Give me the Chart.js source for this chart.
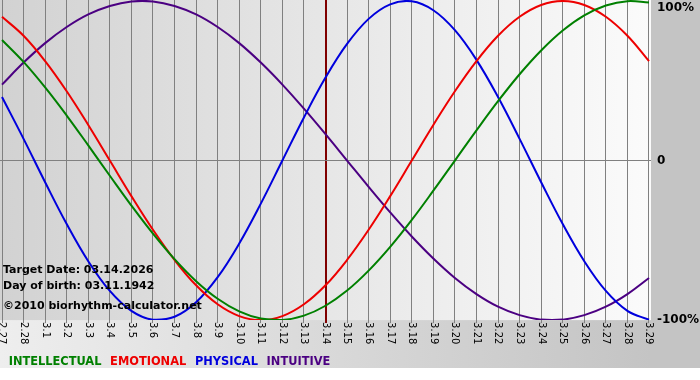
<!DOCTYPE html>
<html>
<head>
<meta charset="utf-8">
<title>Biorhythm chart</title>
<script src="https://cdn.jsdelivr.net/npm/chart.js@4.4.1/dist/chart.umd.min.js"></script>
<style>
    html, body { margin: 0; padding: 0; background: #ffffff; }
    #wrap { width: 700px; height: 380px; }
</style>
</head>
<body>
<div id="wrap"><canvas id="bio-chart" width="700" height="380"></canvas></div>
<script>
// Biorhythm chart - 31 days around the target date

// ============================================
// DATA
// ============================================
const dayLabels = [
    '2.27', '2.28', '3.1', '3.2', '3.3', '3.4', '3.5', '3.6', '3.7', '3.8',
    '3.9', '3.10', '3.11', '3.12', '3.13', '3.14', '3.15', '3.16', '3.17', '3.18',
    '3.19', '3.20', '3.21', '3.22', '3.23', '3.24', '3.25', '3.26', '3.27', '3.28', '3.29',
];
const targetDay = '3.14';

// values in percent, one per day
const intellectual = [75.6, 61.8, 45.8, 28.2, 9.5, -9.5, -28.2, -45.8, -61.8, -75.6, -86.6, -94.5, -99.0, -99.9, -97.2, -91.0, -81.5, -69.0, -54.1, -37.2, -18.9, 0, 18.9, 37.2, 54.1, 69.0, 81.5, 91.0, 97.2, 99.9, 99.0];
const emotional = [90.1, 78.2, 62.3, 43.4, 22.3, 0, -22.3, -43.4, -62.3, -78.2, -90.1, -97.5, -100, -97.5, -90.1, -78.2, -62.3, -43.4, -22.3, 0, 22.3, 43.4, 62.3, 78.2, 90.1, 97.5, 100, 97.5, 90.1, 78.2, 62.3];
const physical = [39.8, 13.6, -13.6, -39.8, -63.1, -81.7, -94.2, -99.8, -97.9, -88.8, -73.1, -52.0, -27.0, 0, 27.0, 52.0, 73.1, 88.8, 97.9, 99.8, 94.2, 81.7, 63.1, 39.8, 13.6, -13.6, -39.8, -63.1, -81.7, -94.2, -99.8];
const intuitive = [47.6, 61.4, 73.6, 83.7, 91.6, 96.9, 99.7, 99.7, 96.9, 91.6, 83.7, 73.6, 61.4, 47.6, 32.5, 16.5, 0, -16.5, -32.5, -47.6, -61.4, -73.6, -83.7, -91.6, -96.9, -99.7, -99.7, -96.9, -91.6, -83.7, -73.6];

const seriesNames = ['INTELLECTUAL', 'EMOTIONAL', 'PHYSICAL', 'INTUITIVE'];

const yTickValues = [-100, 0, 100];
const yTickLabels = ['-100%', '0', '100%'];

const infoLines = [
    'Target Date: 03.14.2026',
    'Day of birth: 03.11.1942',
    '\u00A92010 biorhythm-calculator.net',
];

// ============================================
// STYLE
// ============================================
const colors = {
    intellectual: '#008000',
    emotional: '#ee0000',
    physical: '#0000dd',
    intuitive: '#4b0082',
    grid: '#808080',
    target: '#800000',
};
const fontFamily = '"DejaVu Sans", Verdana, sans-serif';

function toPoints(values) {
    return values.map((v, i) => ({ x: i, y: v }));
}

// backgrounds: gray frame + light gradient inside plot area
const backgroundPlugin = {
    id: 'bioBackground',
    beforeDraw(chart) {
        const { ctx, chartArea: ca, width, height } = chart;
        ctx.save();
        ctx.fillStyle = '#ffffff';
        ctx.fillRect(0, 0, width, height);

        const outer = ctx.createLinearGradient(0, 0, ca.right, 0);
        outer.addColorStop(0, '#eeeeee');
        outer.addColorStop(1, '#c4c4c4');
        ctx.fillStyle = outer;
        ctx.fillRect(0, 0, ca.right, 368);
        ctx.fillStyle = '#c4c4c4';
        ctx.fillRect(ca.right, 0, width - ca.right, 368);

        const inner = ctx.createLinearGradient(ca.left, 0, ca.right, 0);
        inner.addColorStop(0, '#d2d2d2');
        inner.addColorStop(1, '#fbfbfb');
        ctx.fillStyle = inner;
        ctx.fillRect(ca.left, ca.top, ca.right - ca.left, ca.bottom - ca.top);
        ctx.restore();
    },
};

// day labels below the axis, rotated to read top to bottom
const dayLabelPlugin = {
    id: 'dayLabels',
    afterDraw(chart) {
        const { ctx, chartArea: ca } = chart;
        const sx = chart.scales.x;
        ctx.save();
        ctx.font = '10px ' + fontFamily;
        ctx.fillStyle = '#000000';
        ctx.textAlign = 'left';
        ctx.textBaseline = 'middle';
        dayLabels.forEach((lab, i) => {
            ctx.save();
            ctx.translate(sx.getPixelForValue(i), ca.bottom + 2);
            ctx.rotate(Math.PI / 2);
            ctx.fillText(lab, 0, 0);
            ctx.restore();
        });
        ctx.restore();
    },
};

// target date / birth date / copyright text in lower left corner
const infoPlugin = {
    id: 'infoText',
    afterDatasetsDraw(chart) {
        const { ctx, chartArea: ca } = chart;
        const offsets = [50, 34, 14];
        ctx.save();
        ctx.font = 'bold 11px ' + fontFamily;
        ctx.fillStyle = '#000000';
        ctx.textAlign = 'left';
        ctx.textBaseline = 'middle';
        infoLines.forEach((line, i) => {
            ctx.fillText(line, ca.left + 3, ca.bottom - offsets[i]);
        });
        ctx.restore();
    },
};

// ============================================
// CHART
// ============================================
function createBioChart() {
    const ctx = document.getElementById('bio-chart');
    if (!ctx) return;

    const targetIndex = dayLabels.indexOf(targetDay);
    const lineColors = [colors.intellectual, colors.emotional, colors.physical, colors.intuitive];
    const seriesData = [intellectual, emotional, physical, intuitive];

    new Chart(ctx, {
        type: 'line',
        data: {
            datasets: seriesNames.map((name, i) => ({
                label: name,
                data: toPoints(seriesData[i]),
                borderColor: lineColors[i],
                backgroundColor: lineColors[i],
                borderWidth: 2,
                pointRadius: 0,
                pointHoverRadius: 0,
                fill: false,
                tension: 0.4,
            })),
        },
        options: {
            responsive: false,
            animation: false,
            devicePixelRatio: 1,
            layout: {
                padding: { top: 0, left: 0, right: 0, bottom: 2.5 },
            },
            plugins: {
                legend: {
                    position: 'bottom',
                    align: 'start',
                    labels: {
                        boxWidth: 0,
                        boxHeight: 0,
                        padding: 3,
                        font: { family: fontFamily, size: 11.4, weight: 'bold' },
                        generateLabels: function (chart) {
                            return chart.data.datasets.map((ds, i) => ({
                                text: ds.label,
                                fontColor: ds.borderColor,
                                fillStyle: 'transparent',
                                strokeStyle: 'transparent',
                                lineWidth: 0,
                                hidden: false,
                                datasetIndex: i,
                            }));
                        },
                    },
                },
                tooltip: { enabled: false },
            },
            scales: {
                x: {
                    type: 'linear',
                    min: -0.093,
                    max: 30.093,
                    border: { display: false },
                    grid: {
                        drawTicks: true,
                        tickLength: 3,
                        color: (c) => (c.tick && c.tick.value === targetIndex ? colors.target : colors.grid),
                        lineWidth: (c) => (c.tick && c.tick.value === targetIndex ? 2 : 1),
                    },
                    ticks: {
                        display: false,
                    },
                    afterBuildTicks: function (scale) {
                        scale.ticks = dayLabels.map((_, i) => ({ value: i }));
                    },
                    afterFit: function (scale) {
                        scale.height = 33;
                        scale.paddingLeft = 0;
                        scale.paddingRight = 0;
                    },
                },
                y: {
                    position: 'right',
                    min: -100,
                    max: 100.625,
                    border: { display: false },
                    grid: {
                        drawTicks: false,
                        color: (c) => (c.tick && c.tick.value === 0 ? colors.grid : 'transparent'),
                    },
                    ticks: {
                        autoSkip: false,
                        padding: 6,
                        color: '#000000',
                        font: { family: fontFamily, size: 12, weight: 'bold' },
                        callback: function (value) {
                            const idx = yTickValues.indexOf(value);
                            if (idx < 0) return '';
                            // keep the top label inside the canvas
                            return idx === yTickValues.length - 1 ? ['', yTickLabels[idx]] : yTickLabels[idx];
                        },
                    },
                    afterBuildTicks: function (scale) {
                        scale.ticks = yTickValues.map((v) => ({ value: v }));
                    },
                    afterFit: function (scale) {
                        scale.width = 49;
                        scale.paddingTop = 0;
                        scale.paddingBottom = 0;
                    },
                },
            },
        },
        plugins: [backgroundPlugin, dayLabelPlugin, infoPlugin],
    });
}

createBioChart();
</script>
</body>
</html>
